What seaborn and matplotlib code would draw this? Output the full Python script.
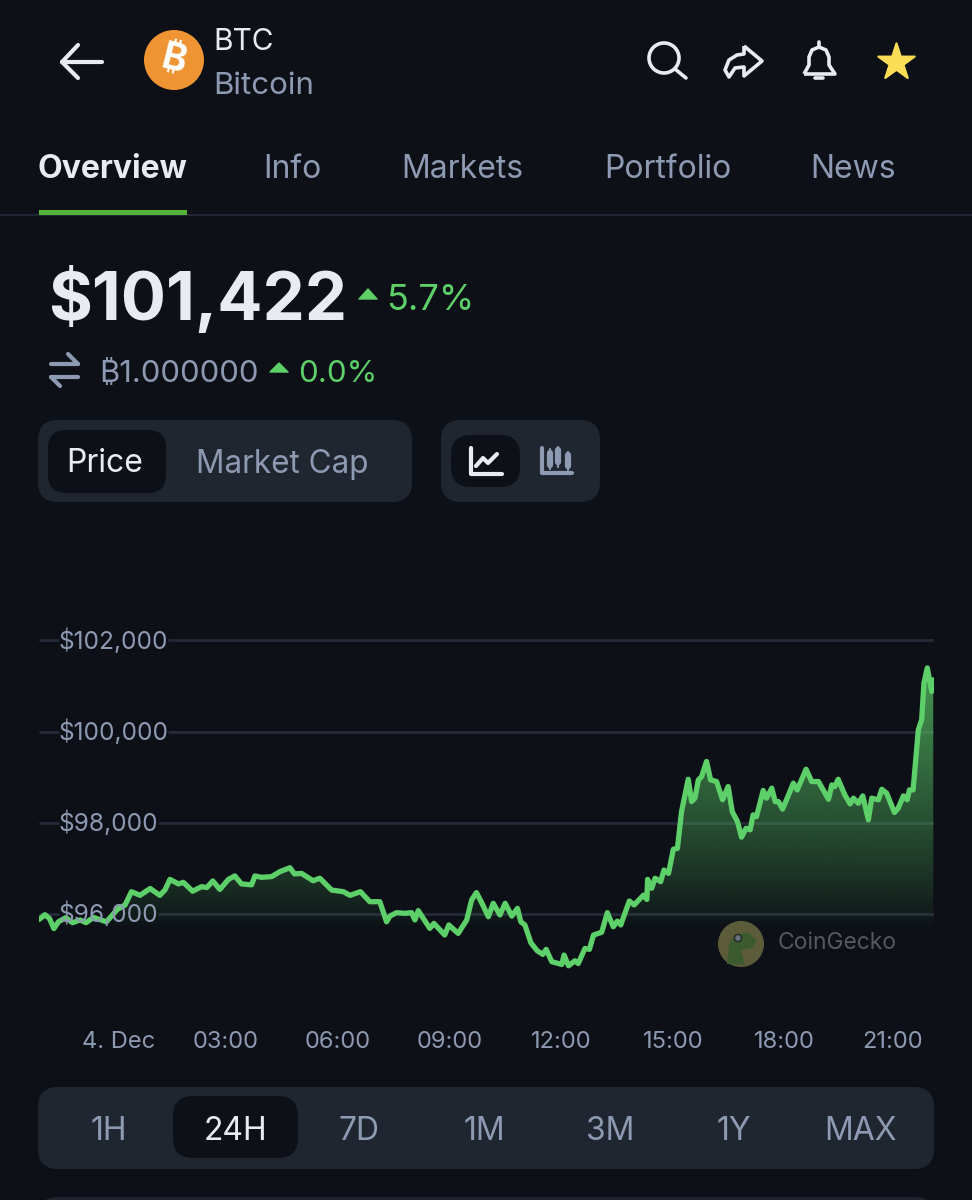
"""BTC 24H price screen: chart drawn with seaborn, app chrome around it."""
import numpy as np
import matplotlib
matplotlib.use("Agg")
import matplotlib.pyplot as plt
from matplotlib.patches import Circle, FancyBboxPatch, PathPatch, Polygon
from matplotlib.path import Path
from matplotlib.transforms import ScaledTranslation
import pandas as pd
import seaborn as sns

# ── Data ──────────────────────────────────────────────────────────────────────
hours = [
    -2.00, -1.84, -1.72, -1.60, -1.48, -1.28, -1.10, -0.90, -0.74, -0.54, -0.19, 0.10, 0.31, 0.48, 0.71, 0.98,
    1.24, 1.38, 1.51, 1.74, 1.87, 2.12, 2.36, 2.50, 2.66, 2.85, 3.08, 3.25, 3.43, 3.70, 3.79, 3.97,
    4.24, 4.46, 4.73, 4.85, 5.04, 5.35, 5.53, 5.85, 6.16, 6.34, 6.62, 6.87, 7.14, 7.32, 7.41, 7.59,
    7.81, 7.99, 8.08, 8.17, 8.48, 8.59, 8.88, 8.99, 9.24, 9.47, 9.60, 9.73, 9.87, 10.05, 10.18, 10.36,
    10.50, 10.68, 10.83, 10.92, 11.03, 11.19, 11.36, 11.51, 11.60, 11.75, 12.02, 12.08, 12.20, 12.37, 12.46, 12.64,
    12.76, 12.87, 13.09, 13.24, 13.40, 13.51, 13.60, 13.83, 13.96, 14.21, 14.30, 14.32, 14.43, 14.52, 14.67, 14.76,
    14.88, 15.01, 15.12, 15.23, 15.41, 15.50, 15.59, 15.68, 15.77, 15.90, 16.01, 16.17, 16.33, 16.48, 16.59, 16.73,
    16.84, 16.96, 17.07, 17.15, 17.24, 17.42, 17.51, 17.65, 17.74, 17.83, 17.94, 18.23, 18.33, 18.57, 18.72, 18.90,
    19.17, 19.26, 19.34, 19.43, 19.61, 19.75, 19.84, 19.97, 20.09, 20.24, 20.33, 20.51, 20.60, 20.73, 20.94, 21.04,
    21.18, 21.28, 21.34, 21.44, 21.58, 21.67, 21.73, 21.82, 21.94, 21.98,
]
price = [
    95880, 95985, 95905, 95680, 95830, 95920, 95810, 95870, 95810, 95925, 95830, 96100, 96200, 96490, 96410, 96560,
    96410, 96530, 96760, 96660, 96695, 96500, 96600, 96580, 96725, 96540, 96760, 96835, 96660, 96640, 96835, 96805,
    96820, 96930, 97015, 96880, 96890, 96730, 96785, 96525, 96490, 96410, 96490, 96270, 96270, 95830, 95955, 96030,
    96015, 96030, 95870, 96075, 95685, 95795, 95540, 95760, 95575, 95870, 96305, 96470, 96250, 95940, 96235, 95980,
    96235, 95955, 96125, 95830, 95760, 95370, 95195, 95115, 95225, 94955, 94895, 95100, 94865, 94975, 94915, 95245,
    95225, 95540, 95600, 96030, 95720, 95845, 95760, 96285, 96200, 96415, 96320, 96760, 96565, 96785, 96710, 96965,
    96890, 97420, 97440, 98245, 98955, 98465, 98540, 98940, 99015, 99345, 98940, 98905, 98505, 98795, 98245, 98025,
    97685, 97880, 97845, 98175, 98135, 98710, 98540, 98760, 98465, 98465, 98300, 98870, 98720, 99175, 98905, 98905,
    98515, 98830, 98795, 98955, 98610, 98415, 98540, 98430, 98590, 98065, 98540, 98505, 98735, 98650, 98225, 98320,
    98590, 98505, 98720, 98720, 100040, 100260, 101065, 101395, 100880, 101135,
]
y_ticks = [96000, 98000, 100000, 102000]
y_labels = ["$96,000", "$98,000", "$100,000", "$102,000"]
x_ticks = [0, 3, 6, 9, 12, 15, 18, 21]
x_labels = ["4. Dec", "03:00", "06:00", "09:00", "12:00", "15:00", "18:00", "21:00"]
tabs = ["Overview", "Info", "Markets", "Portfolio", "News"]
ranges = ["1H", "24H", "7D", "1M", "3M", "1Y", "MAX"]

BG = "#0d1117"
PANEL = "#1f2630"
GRID = "#252a38"
MUTED = "#8d9ab2"
WHITE = "#e8ebf1"
GREEN = "#5ed06a"
FONT = ["Inter", "DejaVu Sans"]

sns.set_theme(style="dark", rc={"figure.facecolor": BG, "savefig.facecolor": BG})
plt.rcParams["font.family"] = FONT

fig = plt.figure(figsize=(9.72, 12), dpi=100)

# ── App chrome, in pixel coordinates ──────────────────────────────────────────
ui = fig.add_axes([0, 0, 1, 1], zorder=0)
ui.set_xlim(0, 972)
ui.set_ylim(1200, 0)
ui.axis("off")


def pill(x0, y0, x1, y1, r, color):
    ui.add_patch(FancyBboxPatch((x0, y0), x1 - x0, y1 - y0, boxstyle=f"round,pad=0,rounding_size={r}",
                                fc=color, ec="none"))


def stroke(pts, color=WHITE, lw=2.6):
    xs, ys = zip(*pts)
    ui.plot(xs, ys, color=color, lw=lw, solid_capstyle="round", solid_joinstyle="round")


def label(x, y, s, size, color=MUTED, ha="left", weight="normal"):
    # va=center sits a little high for these fonts
    ui.text(x, y + 3, s, fontsize=size, color=color, ha=ha, va="center", fontweight=weight)


def triangle(cx, y0, y1, half=9):
    ui.add_patch(Polygon([(cx - half, y1), (cx, y0), (cx + half, y1)], closed=True, fc=GREEN, ec=GREEN,
                         lw=1, joinstyle="round"))


# header
stroke([(78, 45), (62, 62), (78, 78)], lw=3)
stroke([(62, 62), (102, 62)], lw=3)
ui.add_patch(Circle((174, 60), 30, fc="#ee9432", ec="none"))
ui.text(174, 60, "₿", fontsize=27, color="white", ha="center", va="center", rotation=-14, fontweight="bold")
label(213, 39, "BTC", 21.5, WHITE)
label(213, 83, "Bitcoin", 22.5)
ui.add_patch(Circle((664, 58), 15, fc="none", ec=WHITE, lw=2.6))
stroke([(675, 69), (686, 78)])
ui.add_patch(PathPatch(Path([(744, 46), (762, 61), (744, 76), (744, 67), (735, 68), (729, 77), (725, 70),
                             (729, 60), (737, 55), (744, 54), (744, 46)]),
                       fc="none", ec=WHITE, lw=2.6, joinstyle="round"))
ui.add_patch(PathPatch(Path([(804, 74), (809, 65), (809, 57), (812, 50), (819, 47), (826, 50), (829, 57),
                             (829, 65), (835, 74), (804, 74)]),
                       fc="none", ec=WHITE, lw=2.6, joinstyle="round"))
stroke([(819, 42), (819, 47)])
stroke([(815, 78), (823, 78)])
ui.scatter([896], [62], marker="*", s=760, color="#fbdd55", linewidths=1.5, edgecolors="#fbdd55")

# tabs
tab_x = [37, 263, 401, 604, 810]
for x, name in zip(tab_x, tabs):
    if name == "Overview":
        label(x, 167, name, 23, WHITE, weight="bold")
    else:
        label(x, 167, name, 23)
ui.fill_between([0, 972], 214, 216, color="#212735", lw=0)
ui.fill_between([39, 187], 210, 215, color="#55b338", lw=0)

# price block
label(48, 297, "$101,422", 48.3, WHITE, weight="bold")
triangle(368, 289, 299)
label(386, 297, "5.7%", 26, GREEN)
stroke([(51, 364), (78, 364)], MUTED, 3)
stroke([(68, 354), (78, 364)], MUTED, 3)
stroke([(78, 377), (51, 377)], MUTED, 3)
stroke([(60, 386), (51, 377)], MUTED, 3)
label(99, 371, "₿1.000000", 22.3)
triangle(279, 363, 372)
label(298, 371, "0.0%", 22.5, GREEN)

# price / market cap switch
pill(38, 420, 412, 502, 20, PANEL)
pill(48, 430, 166, 493, 18, BG)
label(66, 461, "Price", 23, WHITE)
label(196, 461, "Market Cap", 22.7)
pill(441, 420, 600, 502, 20, PANEL)
pill(451, 435, 520, 487, 20, BG)
stroke([(471, 448), (471, 474), (502, 474)], WHITE, 3)
stroke([(476, 466), (483, 458), (488, 463), (497, 454)], WHITE, 3)
stroke([(542, 448), (542, 473), (572, 473)], MUTED, 3)
for cx, y0, y1, t0, t1 in [(550, 453, 465, 449, 469), (558, 450, 462, 447, 467), (568, 455, 466, 452, 470)]:
    stroke([(cx, t0), (cx, t1)], MUTED, 1.6)
    stroke([(cx, y0), (cx, y1)], MUTED, 4.5)

# range selector
pill(38, 1087, 934, 1169, 20, PANEL)
pill(173, 1096, 298, 1158, 20, BG)
range_x = [109, 235, 359, 484, 610, 734, 860]
for x, name in zip(range_x, ranges):
    label(x, 1128, name, 23, WHITE if name == "24H" else MUTED, ha="center")
pill(38, 1197, 934, 1240, 20, PANEL)

# watermark
ui.add_patch(Circle((741, 944), 23, fc="#5c5c3a", ec="none"))
ui.add_patch(Polygon([(727, 964), (729, 945), (735, 934), (749, 933), (757, 941), (752, 948), (741, 950), (745, 965)],
                     closed=True, fc="#3b5a30", ec="none"))
ui.add_patch(Circle((738, 938), 3.5, fc="#6b7280", ec="#202a20", lw=1))
label(778, 940, "CoinGecko", 16.5, "#55585f")

# ── Chart ─────────────────────────────────────────────────────────────────────
ax = fig.add_axes([39 / 972, 200 / 1200, 895 / 972, 400 / 1200], zorder=1)
ax.patch.set_alpha(0)
df = pd.DataFrame({"hour": hours, "price": price})

# grid segments stop around the value labels
for tick, gap_end in zip(y_ticks, [1.18, 1.18, 1.47, 1.47]):
    ax.hlines(tick, -2, -1.47, color=GRID, lw=2, zorder=1)
    ax.hlines(tick, gap_end, 22, color=GRID, lw=2, zorder=1)

# gradient area under the line
poly = ax.fill_between(hours, price, 95700, facecolor="none", edgecolor="none")
alpha = 0.7 * np.linspace(0, 1, 256) ** 0.85
rgba = np.zeros((256, 1, 4))
rgba[:, :, :3] = matplotlib.colors.to_rgb(GREEN)
rgba[:, 0, 3] = alpha
im = ax.imshow(rgba, origin="lower", aspect="auto", extent=(-2, 22, 95700, 101400), zorder=1.2)
im.set_clip_path(PathPatch(poly.get_paths()[0], transform=ax.transData))

sns.lineplot(data=df, x="hour", y="price", ax=ax, estimator=None, sort=False, color=GREEN, lw=3.8,
             solid_joinstyle="round", zorder=2)

ax.set_xlim(-2, 22)
ax.set_ylim(94115, 102885)
ax.set_xlabel("")
ax.set_ylabel("")
ax.grid(False)
for side in ax.spines.values():
    side.set_visible(False)
ax.set_axisbelow(False)

ax.set_yticks(y_ticks, y_labels)
ax.tick_params(axis="y", length=0, pad=-14.4, labelsize=17.6, labelcolor=MUTED)
for t in ax.get_yticklabels():
    t.set_ha("left")
    t.set_transform(t.get_transform() + ScaledTranslation(0, 2 / 100, fig.dpi_scale_trans))
ax.set_xticks(x_ticks, x_labels)
ax.tick_params(axis="x", length=0, pad=22, labelsize=17, labelcolor=MUTED)
# first and last labels are nudged inward by the chart library
xt = ax.get_xticklabels()
xt[0].set_transform(xt[0].get_transform() + ScaledTranslation(5 / 100, 0, fig.dpi_scale_trans))
xt[-1].set_transform(xt[-1].get_transform() + ScaledTranslation(-4 / 100, 0, fig.dpi_scale_trans))

fig.savefig("out.png", dpi=100, facecolor=BG)
